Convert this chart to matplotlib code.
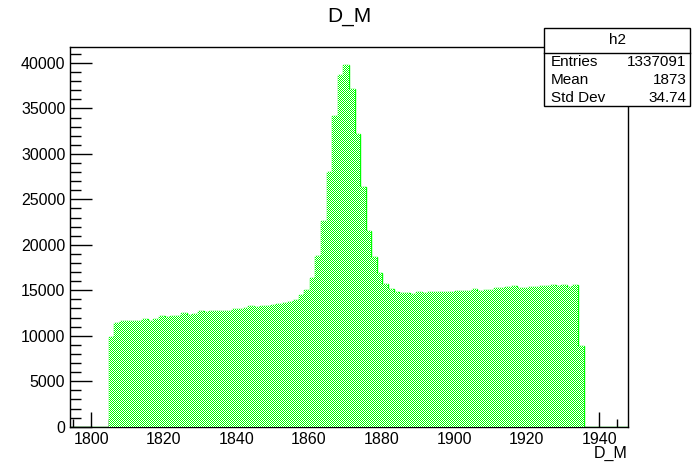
import numpy as np
import matplotlib
matplotlib.use("Agg")
import matplotlib.pyplot as plt
from matplotlib.patches import Rectangle
from matplotlib.ticker import MultipleLocator

GREEN = "#00ff00"
plt.rcParams["font.family"] = ["Liberation Sans", "DejaVu Sans"]

# histogram binning (100 bins) and contents of the filled bins
x_lo, x_hi, n_bins = 1794.0, 1948.0, 100
first_bin = 7
bin_counts = [
    9850, 11390, 11650, 11650, 11650, 11650, 11830, 11650, 11830, 12160,
    12050, 12160, 12160, 12490, 12310, 12420, 12710, 12640, 12710, 12710,
    12710, 12710, 12930, 12930, 13050, 13270, 13160, 13270, 13270, 13410,
    13520, 13630, 13740, 13930, 14510, 15050, 16350, 18810, 22630, 28030,
    34130, 38680, 39800, 37100, 32140, 26340, 21560, 18660, 16930, 15720,
    15160, 14820, 14700, 14700, 14630, 14810, 14700, 14810, 14810, 14810,
    14810, 14810, 14880, 14950, 14950, 15100, 14950, 15030, 15030, 15250,
    15250, 15360, 15500, 15250, 15250, 15360, 15360, 15500, 15500, 15570,
    15430, 15570, 15360, 15570, 8860,
]
stat_names = ["Entries", "Mean", "Std Dev"]
stat_values = ["1337091", "1873", "34.74"]

edges = np.linspace(x_lo, x_hi, n_bins + 1)
counts = np.zeros(n_bins)
counts[first_bin:first_bin + len(bin_counts)] = bin_counts

W, H = 698, 475
fig = plt.figure(figsize=(W / 100, H / 100), dpi=100)
ax = fig.add_axes([0.0996, 0.1017, 0.9002 - 0.0996, 0.9017 - 0.1017])
ax.set_facecolor("none")

ax.set_xlim(x_lo, x_hi)
ax.set_ylim(0, counts.max() * 1.05)

# ROOT fill style 3001: one-pixel checkerboard, clipped to the histogram shape
clip = ax.stairs(counts, edges, fill=True, facecolor="none", edgecolor="none")
ii, jj = np.indices((H, W))
checker = np.ones((H, W, 4))
on = (ii + jj) % 2 == 0
checker[on, 0] = 0.0
checker[on, 2] = 0.0
im = fig.figimage(checker, xo=0, yo=0, zorder=0.5)
im.set_clip_path(clip)

ax.stairs(counts, edges, color=GREEN, lw=1.0, baseline=0)

for s in ax.spines.values():
    s.set_linewidth(1.0)

ax.xaxis.set_major_locator(MultipleLocator(20))
ax.xaxis.set_minor_locator(MultipleLocator(5))
ax.yaxis.set_major_locator(MultipleLocator(5000))
ax.yaxis.set_minor_locator(MultipleLocator(1000))
ax.tick_params(axis="both", which="both", direction="in", top=False, right=False,
               width=1.0, labelsize=11.5, colors="black")
ax.tick_params(axis="x", which="major", length=11, pad=4)
ax.tick_params(axis="x", which="minor", length=5.5)
ax.tick_params(axis="y", which="major", length=16, pad=3)
ax.tick_params(axis="y", which="minor", length=8)

fig.text(0.5, 1 - 16 / H, "D_M", ha="center", va="center", fontsize=15)
fig.text(628 / W, 1 - 453 / H, "D_M", ha="right", va="center", fontsize=11.5)

# stats box
bx0, bx1, by0, by1, bh = 544, 690, 28, 106, 53
fig.add_artist(Rectangle((bx0 / W, 1 - by1 / H), (bx1 - bx0) / W, (by1 - by0) / H,
                         transform=fig.transFigure, facecolor="white",
                         edgecolor="black", lw=1.0, zorder=5))
fig.add_artist(plt.Line2D([bx0 / W, bx1 / W], [1 - bh / H, 1 - bh / H],
                          transform=fig.transFigure, color="black", lw=1.0, zorder=6))
fig.text((bx0 + bx1) / 2 / W, 1 - 40.5 / H, "h2", ha="center", va="center",
         fontsize=11, zorder=7)
for k, (nm, val) in enumerate(zip(stat_names, stat_values)):
    yy = 1 - (62.5 + k * 17.7) / H
    fig.text(551 / W, yy, nm, ha="left", va="center", fontsize=11, zorder=7)
    fig.text(686.5 / W, yy, val, ha="right", va="center", fontsize=11, zorder=7)

fig.savefig("out.png", dpi=100)
